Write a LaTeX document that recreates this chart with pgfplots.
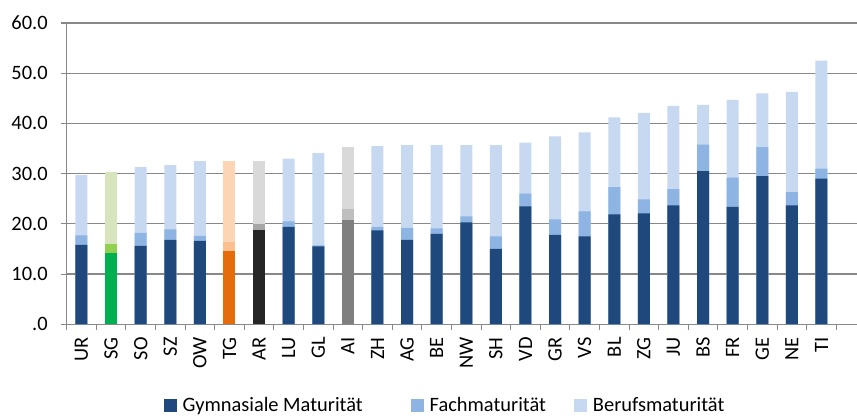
\documentclass[border=0pt]{standalone}
\usepackage{pgfplots}
\pgfplotsset{compat=1.18}
\usepackage{pgfplotstable}
\usepackage{fontspec}
\setmainfont{Carlito}
\definecolor{gymc}{HTML}{1F497D}
\definecolor{fachc}{HTML}{8DB4E2}
\definecolor{berc}{HTML}{C6D9F1}
\definecolor{sgg}{HTML}{00B050}
\definecolor{sgf}{HTML}{92D050}
\definecolor{sgb}{HTML}{D7E4BD}
\definecolor{tgg}{HTML}{E46C0A}
\definecolor{tgf}{HTML}{FAC090}
\definecolor{tgb}{HTML}{FCD5B5}
\definecolor{arg}{HTML}{262626}
\definecolor{arf}{HTML}{A6A6A6}
\definecolor{arb}{HTML}{D9D9D9}
\definecolor{aig}{HTML}{7F7F7F}
\definecolor{aif}{HTML}{BFBFBF}
\definecolor{aib}{HTML}{D9D9D9}
\definecolor{gridc}{HTML}{888888}
\pgfplotstableread{
i lab g f b
0 UR 15.8 1.9 12.0
1 SG 14.2 1.7 14.5
2 SO 15.6 2.6 13.1
3 SZ 16.8 2.1 12.8
4 OW 16.6 1.0 14.9
5 TG 14.6 1.8 16.1
6 AR 18.7 1.2 12.7
7 LU 19.4 1.1 12.5
8 GL 15.5 0.2 18.4
9 AI 20.7 2.2 12.4
10 ZH 18.7 0.7 16.1
11 AG 16.8 2.4 16.5
12 BE 18.0 1.1 16.6
13 NW 20.3 1.2 14.2
14 SH 15.0 2.5 18.2
15 VD 23.5 2.5 10.2
16 GR 17.8 3.1 16.5
17 VS 17.5 5.0 15.7
18 BL 21.9 5.4 13.9
19 ZG 22.1 2.8 17.2
20 JU 23.7 3.2 16.6
21 BS 30.5 5.3 7.9
22 FR 23.4 5.8 15.5
23 GE 29.5 5.8 10.7
24 NE 23.7 2.6 20.0
25 TI 29.0 2.0 21.5
}\datatable
\begin{document}
\fontsize{20.5}{24}\selectfont
\begin{tikzpicture}
\begin{axis}[
  name=ax,
  scale only axis, width=790.3bp, height=301.3bp,
  xmin=-0.5, xmax=26.2, ymin=0, ymax=60,
  axis lines=left,
  axis line style={-, draw=gridc, line width=1.1bp},
  ytick={0,10,...,60},
  yticklabels={.0,10.0,20.0,30.0,40.0,50.0,60.0},
  ymajorgrids,
  grid style={draw=gridc, line width=1.2bp},
  xtick={0,...,25},
  xticklabels from table={\datatable}{lab},
  major x tick style={draw=none},
  minor xtick={-0.5,0.5,...,25.5},
  tick align=outside,
  major tick length=6bp, minor tick length=6bp,
  tick style={draw=gridc, line width=1.1bp},
  xticklabel style={rotate=90, anchor=east},
  yticklabel style={xshift=-6bp},
  mybar/.style={ybar, bar width=12bp, bar shift=0pt, draw=none, forget plot},
  legend image code/.code={\fill[#1] (0bp,-6.5bp) rectangle (13bp,6.5bp); \path (17bp,0bp);},
  legend columns=3,
  legend style={draw=none, fill=none,
    at={(axis description cs:0.4787,-0.271)}, anchor=center,
    /tikz/column 2/.style={column sep=46bp},
    /tikz/column 4/.style={column sep=26bp}},
]
% normal bars (special cantons filtered out)
\addplot[mybar, fill=berc, x filter/.expression={(x==1||x==5||x==6||x==9) ? nan : x}]
  table[x=i, y expr=\thisrow{g}+\thisrow{f}+\thisrow{b}] {\datatable};
\addplot[mybar, fill=fachc, x filter/.expression={(x==1||x==5||x==6||x==9) ? nan : x}]
  table[x=i, y expr=\thisrow{g}+\thisrow{f}] {\datatable};
\addplot[mybar, fill=gymc, x filter/.expression={(x==1||x==5||x==6||x==9) ? nan : x}]
  table[x=i, y=g] {\datatable};
% SG
\addplot[mybar, fill=sgb, restrict x to domain=1:1] table[x=i, y expr=\thisrow{g}+\thisrow{f}+\thisrow{b}] {\datatable};
\addplot[mybar, fill=sgf, restrict x to domain=1:1] table[x=i, y expr=\thisrow{g}+\thisrow{f}] {\datatable};
\addplot[mybar, fill=sgg, restrict x to domain=1:1] table[x=i, y=g] {\datatable};
% TG
\addplot[mybar, fill=tgb, restrict x to domain=5:5] table[x=i, y expr=\thisrow{g}+\thisrow{f}+\thisrow{b}] {\datatable};
\addplot[mybar, fill=tgf, restrict x to domain=5:5] table[x=i, y expr=\thisrow{g}+\thisrow{f}] {\datatable};
\addplot[mybar, fill=tgg, restrict x to domain=5:5] table[x=i, y=g] {\datatable};
% AR
\addplot[mybar, fill=arb, restrict x to domain=6:6] table[x=i, y expr=\thisrow{g}+\thisrow{f}+\thisrow{b}] {\datatable};
\addplot[mybar, fill=arf, restrict x to domain=6:6] table[x=i, y expr=\thisrow{g}+\thisrow{f}] {\datatable};
\addplot[mybar, fill=arg, restrict x to domain=6:6] table[x=i, y=g] {\datatable};
% AI
\addplot[mybar, fill=aib, restrict x to domain=9:9] table[x=i, y expr=\thisrow{g}+\thisrow{f}+\thisrow{b}] {\datatable};
\addplot[mybar, fill=aif, restrict x to domain=9:9] table[x=i, y expr=\thisrow{g}+\thisrow{f}] {\datatable};
\addplot[mybar, fill=aig, restrict x to domain=9:9] table[x=i, y=g] {\datatable};
\addlegendimage{fill=gymc, draw=none}
\addlegendentry{Gymnasiale Maturität}
\addlegendimage{fill=fachc, draw=none}
\addlegendentry{Fachmaturität}
\addlegendimage{fill=berc, draw=none}
\addlegendentry{Berufsmaturität}
\end{axis}
\pgfresetboundingbox
\path ([shift={(-66.7bp,-93.7bp)}]ax.south west) rectangle ([shift={(0bp,23bp)}]ax.north east);
\end{tikzpicture}
\end{document}
